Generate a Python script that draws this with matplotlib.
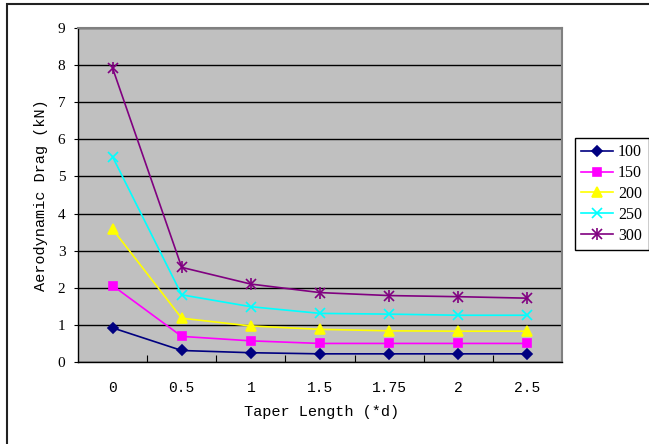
import matplotlib.pyplot as plt
from matplotlib.patches import Rectangle

categories = ["0", "0.5", "1", "1.5", "1.75", "2", "2.5"]
series_names = ["100", "150", "200", "250", "300"]
drag_100 = [0.92, 0.31, 0.25, 0.22, 0.22, 0.22, 0.22]
drag_150 = [2.06, 0.69, 0.57, 0.50, 0.50, 0.50, 0.50]
drag_200 = [3.58, 1.18, 0.97, 0.88, 0.84, 0.83, 0.83]
drag_250 = [5.53, 1.81, 1.49, 1.31, 1.29, 1.26, 1.26]
drag_300 = [7.92, 2.55, 2.10, 1.87, 1.79, 1.76, 1.72]

styles = [
    {"color": "#000080", "marker": "D", "ms": 5},
    {"color": "#FF00FF", "marker": "s", "ms": 6},
    {"color": "#FFFF00", "marker": "^", "ms": 7},
    {"color": "#00FFFF", "marker": "x", "ms": 7},
    {"color": "#800080", "marker": "x", "ms": 7},
]

fig = plt.figure(figsize=(6.49, 4.44), dpi=100)
ax = fig.add_axes([78 / 649, 82 / 444, 484 / 649, 334 / 444])
ax.set_facecolor("#C0C0C0")

x = list(range(len(categories)))
handles = []
for name, vals, st in zip(series_names, [drag_100, drag_150, drag_200, drag_250, drag_300], styles):
    h, = ax.plot(x, vals, color=st["color"], linewidth=1.2, marker=st["marker"],
                 markersize=st["ms"], markeredgewidth=1.2, label=name, zorder=3)
    handles.append(h)

# the 300 series uses an asterisk: x plus a vertical bar
bar, = ax.plot(x, drag_300, linestyle="none", marker="|", markersize=8,
               markeredgewidth=1.2, color="#800080", zorder=3)
handles[-1] = (handles[-1], bar)

ax.set_xlim(-0.5, len(categories) - 0.5)
ax.set_ylim(0, 9)
ax.set_yticks(range(0, 10))
ax.yaxis.grid(True, color="black", linewidth=1.0)
ax.set_axisbelow(True)

ax.set_xticks([i + 0.5 for i in range(len(categories) - 1)])
ax.set_xticklabels([])
ax.tick_params(axis="x", direction="in", length=5, color="black")
for i, lab in enumerate(categories):
    ax.text(i, -0.5, lab, ha="center", va="top", fontsize=10.5,
            family="Liberation Mono", transform=ax.transData)

ax.tick_params(axis="y", direction="out", length=3, labelsize=11, pad=6)
for t in ax.get_yticklabels():
    t.set_family("Liberation Serif")

for s in ["left", "bottom"]:
    ax.spines[s].set_color("black")
    ax.spines[s].set_linewidth(1.0)
for s in ["top", "right"]:
    ax.spines[s].set_color("#808080")
    ax.spines[s].set_linewidth(1.5)

ax.set_ylabel("Aerodynamic Drag (kN)", family="Liberation Mono", fontsize=11, labelpad=7)
fig.text(322 / 649, 1 - 412 / 444, "Taper Length (*d)", ha="center", va="center",
         family="Liberation Mono", fontsize=11)

leg = fig.legend(handles=handles, labels=series_names, loc="upper left",
                 bbox_to_anchor=(575 / 649, 1 - 138 / 444),
                 frameon=True, fancybox=False, edgecolor="black", framealpha=1,
                 prop={"family": "Liberation Serif", "size": 11.5},
                 handlelength=2.0, handletextpad=0.3, labelspacing=0.3,
                 borderpad=0.4, borderaxespad=0)
leg.get_frame().set_linewidth(1.0)

fig.patches.append(Rectangle((7 / 649, -0.05), 1.1, 1 - 4 / 444 + 0.05,
                             transform=fig.transFigure, fill=False,
                             edgecolor="#222222", linewidth=1.5))

fig.savefig("out.png", dpi=100)
